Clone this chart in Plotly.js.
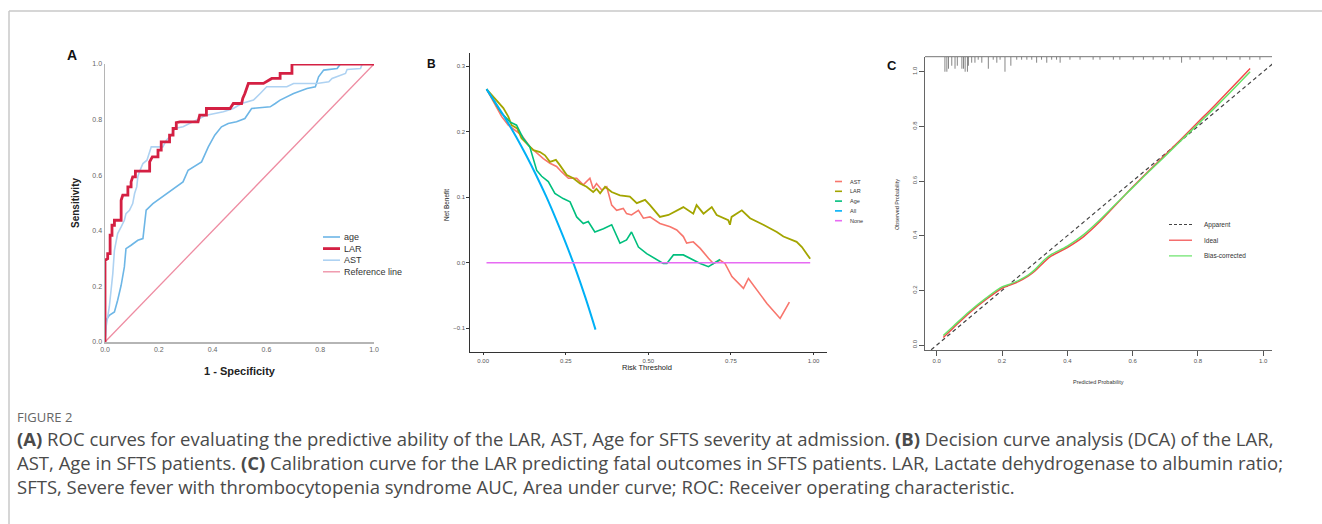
<!DOCTYPE html>
<html>
<head>
<meta charset="utf-8">
<script src="https://cdn.plot.ly/plotly-3.0.1.min.js"></script>
<style>
html,body{margin:0;padding:0;background:#fff;}
#chart{width:1322px;height:524px;}
</style>
</head>
<body>
<div id="chart"></div>
<script>
// ---------------- Panel A: ROC data ----------------
const lar_fpr = [0,0,0.010,0.010,0.019,0.019,0.026,0.026,0.035,0.035,0.060,0.060,0.066,0.085,0.085,0.097,0.097,0.103,0.113,0.113,0.166,0.166,0.176,0.197,0.197,0.209,0.209,0.240,0.240,0.253,0.253,0.265,0.265,0.278,0.346,0.352,0.377,0.377,0.465,0.477,0.508,0.512,0.520,0.533,0.589,0.605,0.620,0.651,0.651,0.695,0.695,1.0];
const lar_tpr = [0,0.294,0.300,0.318,0.318,0.384,0.384,0.420,0.420,0.438,0.438,0.510,0.528,0.528,0.558,0.558,0.576,0.594,0.594,0.615,0.615,0.648,0.666,0.666,0.690,0.690,0.720,0.720,0.744,0.744,0.768,0.768,0.789,0.792,0.792,0.816,0.816,0.840,0.840,0.858,0.858,0.876,0.894,0.930,0.930,0.940,0.948,0.948,0.966,0.966,1.0,1.0];
const ast_fpr = [0,0.004,0.016,0.022,0.029,0.035,0.041,0.047,0.060,0.072,0.078,0.091,0.103,0.110,0.118,0.122,0.128,0.141,0.156,0.172,0.215,0.228,0.247,0.259,0.290,0.303,0.328,0.352,0.377,0.440,0.477,0.508,0.552,0.577,0.589,0.601,0.676,0.701,0.788,0.832,0.844,0.894,0.900,0.950,0.956,1.0];
const ast_tpr = [0,0.054,0.126,0.174,0.246,0.330,0.366,0.390,0.414,0.438,0.462,0.474,0.498,0.534,0.558,0.594,0.612,0.642,0.654,0.702,0.702,0.726,0.744,0.768,0.774,0.780,0.792,0.804,0.816,0.828,0.840,0.858,0.870,0.894,0.906,0.918,0.918,0.930,0.930,0.936,0.948,0.966,0.980,0.984,1.0,1.0];
const age_fpr = [0,0.004,0.016,0.035,0.047,0.060,0.072,0.078,0.097,0.122,0.141,0.153,0.178,0.228,0.290,0.309,0.328,0.359,0.384,0.408,0.433,0.458,0.489,0.520,0.545,0.614,0.633,0.651,0.701,0.751,0.782,0.794,0.813,0.863,0.875,1.0];
const age_tpr = [0,0.078,0.096,0.108,0.150,0.204,0.270,0.336,0.348,0.366,0.372,0.474,0.498,0.534,0.576,0.618,0.630,0.648,0.702,0.744,0.774,0.786,0.792,0.804,0.840,0.846,0.858,0.870,0.894,0.912,0.918,0.954,0.978,0.984,1.0,1.0];
const ref_x = [0,1];
const ref_y = [0,1];
const rocNames = ["age","LAR","AST","Reference line"];
const rocTicks = [0,0.2,0.4,0.6,0.8,1.0];

// ---------------- Panel B: decision curves ----------------
const dca_lar_x = [0.01,0.061,0.076,0.086,0.103,0.116,0.136,0.152,0.172,0.187,0.202,0.220,0.232,0.253,0.273,0.293,0.313,0.333,0.343,0.354,0.369,0.389,0.414,0.444,0.465,0.490,0.505,0.535,0.561,0.606,0.636,0.646,0.667,0.692,0.707,0.742,0.747,0.752,0.783,0.808,0.848,0.889,0.909,0.949,0.965,0.980,0.990];
const dca_lar_y = [0.265,0.236,0.223,0.210,0.205,0.190,0.180,0.172,0.169,0.164,0.154,0.157,0.149,0.134,0.129,0.121,0.116,0.108,0.113,0.106,0.116,0.108,0.103,0.101,0.091,0.096,0.088,0.070,0.073,0.085,0.075,0.088,0.075,0.085,0.073,0.065,0.058,0.070,0.080,0.068,0.058,0.047,0.040,0.032,0.024,0.014,0.006];
const dca_ast_x = [0.01,0.045,0.056,0.076,0.096,0.116,0.141,0.162,0.182,0.202,0.222,0.237,0.258,0.283,0.303,0.323,0.333,0.343,0.359,0.374,0.389,0.404,0.424,0.434,0.449,0.470,0.485,0.505,0.535,0.566,0.586,0.606,0.616,0.636,0.657,0.682,0.697,0.717,0.732,0.753,0.788,0.803,0.838,0.859,0.899,0.914,0.927];
const dca_ast_y = [0.265,0.233,0.223,0.210,0.203,0.195,0.177,0.167,0.159,0.152,0.147,0.139,0.129,0.129,0.119,0.129,0.113,0.121,0.111,0.116,0.088,0.080,0.083,0.075,0.073,0.080,0.068,0.070,0.060,0.055,0.050,0.040,0.030,0.032,0.022,0.007,-0.001,0.004,-0.001,-0.021,-0.039,-0.024,-0.047,-0.062,-0.085,-0.072,-0.060];
const dca_age_x = [0.01,0.056,0.081,0.101,0.121,0.141,0.162,0.177,0.197,0.217,0.242,0.263,0.283,0.303,0.318,0.338,0.364,0.389,0.414,0.434,0.449,0.470,0.495,0.520,0.545,0.556,0.576,0.606,0.636,0.657,0.682,0.697,0.717];
const dca_age_y = [0.265,0.228,0.215,0.210,0.190,0.177,0.141,0.132,0.124,0.106,0.098,0.093,0.070,0.060,0.063,0.047,0.052,0.058,0.030,0.035,0.047,0.024,0.014,0.007,-0.001,-0.001,0.012,0.012,0.004,-0.001,-0.006,-0.001,0.005];
const dca_all_x = [0.01,0.04,0.07,0.10,0.13,0.16,0.19,0.22,0.25,0.28,0.31,0.34];
const dca_all_y = [0.265,0.242,0.218,0.192,0.164,0.134,0.102,0.067,0.030,-0.010,-0.054,-0.102];
const dca_none_x = [0.01,0.99];
const dca_none_y = [0,0];
const dcaNames = ["AST","LAR","Age","All","None"];
const dcaXTicks = [0,0.25,0.5,0.75,1];
const dcaXLabels = ["0.00","0.25","0.50","0.75","1.00"];
const dcaYTicks = [-0.1,0,0.1,0.2,0.3];

// ---------------- Panel C: calibration ----------------
const cal_x = [0.02,0.05,0.10,0.15,0.20,0.22,0.25,0.28,0.30,0.33,0.35,0.40,0.45,0.50,0.55,0.60,0.65,0.70,0.75,0.80,0.85,0.90,0.96];
const cal_ideal = [0.028,0.062,0.118,0.166,0.208,0.218,0.232,0.252,0.270,0.305,0.325,0.357,0.397,0.452,0.515,0.578,0.638,0.696,0.755,0.815,0.875,0.937,1.012];
const cal_bias = [0.035,0.068,0.123,0.171,0.213,0.221,0.236,0.256,0.275,0.312,0.331,0.362,0.404,0.458,0.518,0.576,0.635,0.692,0.750,0.808,0.866,0.926,1.000];
const apparent_x = [-0.05,1.1];
const apparent_y = [-0.05,1.1];
const rug_x = [0.025,0.031,0.036,0.046,0.056,0.063,0.077,0.082,0.087,0.094,0.097,0.107,0.117,0.127,0.138,0.158,0.173,0.184,0.194,0.209,0.227,0.245,0.260,0.276,0.291,0.306,0.321,0.337,0.352,0.367,0.378,0.408,0.439,0.479,0.500,0.541,0.561,0.602,0.633,0.663,0.694,0.714,0.750,0.776,0.806,0.847,0.888,0.929,0.959,0.990];
const rug_count = [5,5,4,3,4,3,4,4,5,5,3,2,2,1,2,4,1,2,1,5,3,1,1,1,1,2,1,2,1,1,2,1,1,1,1,1,1,1,1,1,1,1,2,1,1,1,1,1,1,1];
const calNames = ["Apparent","Ideal","Bias-corrected"];
const calTicks = [0,0.2,0.4,0.6,0.8,1.0];

// ---------------- Caption ----------------
const figLabel = "FIGURE 2";
const captionLines = [
  "<b>(A)</b> ROC curves for evaluating the predictive ability of the LAR, AST, Age for SFTS severity at admission. <b>(B)</b> Decision curve analysis (DCA) of the LAR,",
  "AST, Age in SFTS patients. <b>(C)</b> Calibration curve for the LAR predicting fatal outcomes in SFTS patients. LAR, Lactate dehydrogenase to albumin ratio;",
  "SFTS, Severe fever with thrombocytopenia syndrome AUC, Area under curve; ROC: Receiver operating characteristic."
];

// ---------------- helpers ----------------
const W = 1322, H = 524;
const PX = x => x / W;
const PY = y => 1 - y / H;
const SANS = "Liberation Sans, Arial, sans-serif";

const colA = {age:"#6DB6E6", LAR:"#D42043", AST:"#AED2F2", ref:"#EE8CA2"};
const colB = {AST:"#F8766D", LAR:"#A3A500", Age:"#00BF7D", All:"#00B0F6", None:"#E76BF3"};
const colC = {Apparent:"#444444", Ideal:"#F24A4A", Bias:"#66E266"};

const traces = [];
// Panel A
traces.push({x:ref_x, y:ref_y, xaxis:"x", yaxis:"y", mode:"lines", line:{color:colA.ref, width:1.3}, showlegend:false, hoverinfo:"skip"});
traces.push({x:age_fpr, y:age_tpr, xaxis:"x", yaxis:"y", mode:"lines", line:{color:colA.age, width:1.6}, showlegend:false});
traces.push({x:ast_fpr, y:ast_tpr, xaxis:"x", yaxis:"y", mode:"lines", line:{color:colA.AST, width:1.6}, showlegend:false});
traces.push({x:lar_fpr, y:lar_tpr, xaxis:"x", yaxis:"y", mode:"lines", line:{color:colA.LAR, width:2.8}, showlegend:false});
// Panel B
traces.push({x:dca_ast_x, y:dca_ast_y, xaxis:"x2", yaxis:"y2", mode:"lines", line:{color:colB.AST, width:1.6}, showlegend:false});
traces.push({x:dca_lar_x, y:dca_lar_y, xaxis:"x2", yaxis:"y2", mode:"lines", line:{color:colB.LAR, width:1.8}, showlegend:false});
traces.push({x:dca_age_x, y:dca_age_y, xaxis:"x2", yaxis:"y2", mode:"lines", line:{color:colB.Age, width:1.6}, showlegend:false});
traces.push({x:dca_all_x, y:dca_all_y, xaxis:"x2", yaxis:"y2", mode:"lines", line:{color:colB.All, width:2, shape:"spline"}, showlegend:false});
traces.push({x:dca_none_x, y:dca_none_y, xaxis:"x2", yaxis:"y2", mode:"lines", line:{color:colB.None, width:1.5}, showlegend:false});
// Panel C
const calTop = 1.055;
const rx = [], ry = [];
rug_x.forEach((v,i) => { rx.push(v, v, null); ry.push(calTop, calTop - rug_count[i]*0.011, null); });
traces.push({x:rx, y:ry, xaxis:"x3", yaxis:"y3", mode:"lines", line:{color:"#666", width:0.8}, showlegend:false, hoverinfo:"skip"});
traces.push({x:apparent_x, y:apparent_y, xaxis:"x3", yaxis:"y3", mode:"lines", line:{color:colC.Apparent, width:1.2, dash:"4px,3px"}, showlegend:false});
traces.push({x:cal_x, y:cal_ideal, xaxis:"x3", yaxis:"y3", mode:"lines", line:{color:colC.Ideal, width:1.5, shape:"spline"}, showlegend:false});
traces.push({x:cal_x, y:cal_bias, xaxis:"x3", yaxis:"y3", mode:"lines", line:{color:colC.Bias, width:1.5, shape:"spline"}, showlegend:false});

const ann = [];
const shapes = [];
function txt(t, x, y, size, opts) {
  ann.push(Object.assign({text:t, x:PX(x), y:PY(y), xref:"paper", yref:"paper", showarrow:false,
    xanchor:"center", yanchor:"middle", font:{family:SANS, size:size, color:"#222"}}, opts||{}));
}
function seg(x0,y0,x1,y1,color,width,dash){
  shapes.push({type:"line", xref:"paper", yref:"paper", x0:PX(x0), y0:PY(y0), x1:PX(x1), y1:PY(y1),
    line:{color:color, width:width, dash:dash||"solid"}});
}

// frame
seg(9,11,1322,11,"#c8c8c8",1.5);
seg(9,11,9,524,"#c8c8c8",1.5);

// panel letters
txt("<b>A</b>", 72, 55, 14, {font:{family:SANS,size:14,color:"#111"}});
txt("<b>B</b>", 432, 64, 12, {font:{family:SANS,size:12,color:"#111"}});
txt("<b>C</b>", 892, 66, 13, {font:{family:SANS,size:13,color:"#111"}});

// Panel A titles
txt("<b>Sensitivity</b>", 75, 203, 10, {textangle:-90, font:{family:SANS,size:10,color:"#222"}});
txt("<b>1 - Specificity</b>", 240, 371, 11, {font:{family:SANS,size:11,color:"#222"}});
// Panel A legend
const legAcol = [colA.age, colA.LAR, colA.AST, colA.ref];
const legAw = [1.6, 2.8, 1.6, 1.3];
rocNames.forEach((n,i) => {
  const yy = 237 + i*11.6;
  seg(323, yy, 340, yy, legAcol[i], legAw[i]);
  txt(n, 341.5, yy, 9, {xanchor:"left", font:{family:SANS,size:9,color:"#333"}});
});

// Panel B titles + legend
txt("Net Benefit", 447, 205, 6.5, {textangle:-90, font:{family:SANS,size:6.5,color:"#222"}});
txt("Risk Threshold", 647, 367, 7.5, {font:{family:SANS,size:7.5,color:"#222"}});
const legBcol = [colB.AST, colB.LAR, colB.Age, colB.All, colB.None];
dcaNames.forEach((n,i) => {
  const yy = 181.5 + i*9.8;
  seg(835, yy, 842, yy, legBcol[i], 1.6);
  txt(n, 848, yy, 5.5, {xanchor:"left", font:{family:SANS,size:5.5,color:"#333"}});
});

// Panel C titles + legend
txt("Observed Probability", 897, 205, 5.5, {textangle:-90, font:{family:SANS,size:5.5,color:"#333"}});
txt("Predicted Probability", 1098, 382, 5.5, {font:{family:SANS,size:5.5,color:"#333"}});
const legCcol = [colC.Apparent, colC.Ideal, colC.Bias];
const legCdash = ["3px,2px","solid","solid"];
calNames.forEach((n,i) => {
  const yy = 224.5 + i*15.7;
  seg(1169, yy, 1192, yy, legCcol[i], 1.2, legCdash[i]);
  txt(n, 1201.5, yy, 6.5, {xanchor:"left", font:{family:SANS,size:6.5,color:"#333"}});
});
// top frame line of panel C
seg(925, 56.7, 1272, 56.7, "#666", 0.9);

// Caption
txt(figLabel, 15, 416.5, 13, {xanchor:"left", font:{family:"Open Sans, sans-serif", size:13, color:"#666"}});
txt(captionLines.join("<br>"), 15, 462, 18.5, {xanchor:"left", align:"left",
  font:{family:"Open Sans, sans-serif", size:18.5, color:"#4a4a4a"}});

const tickFontA = {family:SANS, size:7, color:"#666"};
const tickFontB = {family:SANS, size:6, color:"#555"};
const tickFontC = {family:SANS, size:6, color:"#555"};

const layout = {
  width: W, height: H,
  margin: {l:0, r:0, t:0, b:0},
  paper_bgcolor: "#fff", plot_bgcolor: "rgba(0,0,0,0)",
  showlegend: false,
  xaxis: {domain:[PX(105),PX(374)], anchor:"y", range:[0,1.0], showgrid:false, zeroline:false,
    showline:true, linecolor:"#b5b5b5", linewidth:1.5, ticks:"", tickvals:rocTicks, tickformat:".1f",
    tickfont:tickFontA, fixedrange:true},
  yaxis: {domain:[PY(342),PY(64)], anchor:"x", range:[0,1.0], showgrid:false, zeroline:false,
    showline:true, linecolor:"#b5b5b5", linewidth:1.5, ticks:"", tickvals:rocTicks, tickformat:".1f",
    tickfont:tickFontA, fixedrange:true},
  xaxis2: {domain:[PX(470),PX(826.7)], anchor:"y2", range:[-0.04,1.04], showgrid:false, zeroline:false,
    showline:true, linecolor:"#333", linewidth:1.2, ticks:"outside", ticklen:2.5, tickcolor:"#333",
    tickvals:dcaXTicks, ticktext:dcaXLabels, tickfont:tickFontB, fixedrange:true},
  yaxis2: {domain:[PY(351.7),PY(53.3)], anchor:"x2", range:[-0.1357,0.3197], showgrid:false, zeroline:false,
    showline:true, linecolor:"#333", linewidth:1.2, ticks:"outside", ticklen:2.5, tickcolor:"#333",
    tickvals:dcaYTicks, tickformat:".1f", tickfont:tickFontB, fixedrange:true},
  xaxis3: {domain:[PX(925),PX(1272)], anchor:"y3", range:[-0.036,1.027], showgrid:false, zeroline:false,
    showline:true, linecolor:"#555", linewidth:0.9, ticks:"outside", ticklen:5, tickcolor:"#555",
    tickvals:calTicks, tickformat:".1f", tickfont:tickFontC, fixedrange:true},
  yaxis3: {domain:[PY(350),PY(56.7)], anchor:"x3", range:[-0.018,1.055], showgrid:false, zeroline:false,
    showline:true, linecolor:"#555", linewidth:0.9, ticks:"outside", ticklen:5, tickcolor:"#555",
    tickvals:calTicks, tickformat:".1f", tickangle:-90, tickfont:tickFontC, fixedrange:true},
  annotations: ann,
  shapes: shapes
};

Plotly.newPlot("chart", traces, layout, {displayModeBar:false, staticPlot:true});
</script>
</body>
</html>
